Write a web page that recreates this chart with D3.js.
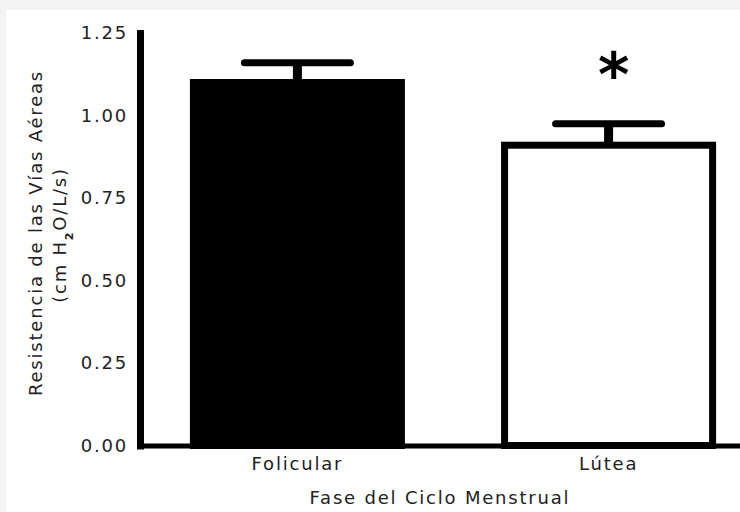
<!DOCTYPE html>
<html lang="es">
<head>
  <meta charset="utf8">
  <script type="text/javascript" src="https://cdn.jsdelivr.net/npm/d3@7"></script>
  <title>Resistencia de las Vías Aéreas</title>
  <style>
    body { margin: 0; background: #f3f3f3; }
    text { font-family: "DejaVu Sans", Verdana, sans-serif; fill: #222; }
  </style>
</head>
<body>
  <div id="chart"></div>
</body>
<script type="text/javascript">

  // datos
  var fases = ["Folicular", "Lútea"];
  var medias = [1.10, 0.91];
  var errores = [0.06, 0.065];
  var rellenos = ["#000", "#fff"];
  var significativo = [false, true];
  var ticksY = [0, 0.25, 0.5, 0.75, 1.0, 1.25];

  var width = 740, height = 512;

  var svg = d3.select("#chart").append("svg")
    .attr("width", width).attr("height", height);

  // panel blanco
  svg.append("rect")
    .attr("x", 6).attr("y", 10)
    .attr("width", width - 6).attr("height", height - 10)
    .attr("fill", "#fff");

  var y = d3.scaleLinear().domain([0, 1.25]).range([445.5, 33]);
  var x = d3.scaleBand().domain(fases).range([137, 769])
    .paddingInner(0.309).paddingOuter(0.17);

  // barras
  var bw = x.bandwidth();
  svg.append("g").selectAll("rect")
    .data(fases)
    .enter()
    .append("rect")
    .attr("x", function (d) { return x(d) + 3.5; })
    .attr("y", function (d, i) { return y(medias[i]); })
    .attr("width", bw - 7)
    .attr("height", function (d, i) { return y(0) - y(medias[i]); })
    .attr("fill", function (d, i) { return rellenos[i]; })
    .attr("stroke", "#000")
    .attr("stroke-width", 7);

  // barras de error (solo hacia arriba)
  var eb = svg.append("g").attr("stroke", "#000");
  fases.forEach(function (f, i) {
    var cx = x(f) + bw / 2;
    eb.append("line")
      .attr("x1", cx).attr("x2", cx)
      .attr("y1", y(medias[i])).attr("y2", y(medias[i] + errores[i]))
      .attr("stroke-width", 9);
    eb.append("line")
      .attr("x1", cx - 53).attr("x2", cx + 53)
      .attr("y1", y(medias[i] + errores[i])).attr("y2", y(medias[i] + errores[i]))
      .attr("stroke-width", 7)
      .attr("stroke-linecap", "round");
    if (significativo[i]) {
      svg.append("text")
        .attr("x", cx + 5)
        .attr("y", y(medias[i] + errores[i]) - 28)
        .attr("text-anchor", "middle")
        .style("font-size", "60px")
        .style("font-weight", "bold")
        .style("fill", "#000")
        .text("*");
    }
  });

  // eje x
  var gx = svg.append("g")
    .attr("transform", "translate(0," + y(0) + ")")
    .call(d3.axisBottom(x).tickSize(0).tickPadding(12));
  gx.select(".domain").attr("stroke", "#000").attr("stroke-width", 5);
  gx.selectAll("text")
    .attr("fill", null)
    .style("font-size", "18px")
    .style("letter-spacing", "1.8px");

  // eje y
  var gy = svg.append("g")
    .attr("transform", "translate(140,0)")
    .call(d3.axisLeft(y).tickValues(ticksY).tickFormat(d3.format(".2f"))
      .tickSize(3).tickSizeOuter(0).tickPadding(9));
  gy.select(".domain").attr("stroke", "#000").attr("stroke-width", 7)
    .attr("stroke-linecap", "square");
  gy.selectAll(".tick line").attr("stroke", "#000").attr("stroke-width", 3);
  gy.selectAll("text")
    .attr("fill", null)
    .style("font-size", "18px")
    .style("letter-spacing", "1.8px");

  // títulos de ejes
  svg.append("text")
    .attr("x", 440).attr("y", 504)
    .attr("text-anchor", "middle")
    .style("font-size", "18px")
    .style("letter-spacing", "1.8px")
    .text("Fase del Ciclo Menstrual");

  svg.append("text")
    .attr("transform", "translate(42,233) rotate(-90)")
    .attr("text-anchor", "middle")
    .style("font-size", "18px")
    .style("letter-spacing", "1.8px")
    .text("Resistencia de las Vías Aéreas");

  var t2 = svg.append("text")
    .attr("transform", "translate(66,235) rotate(-90)")
    .attr("text-anchor", "middle")
    .style("font-size", "18px")
    .style("letter-spacing", "1.8px");
  t2.append("tspan").text("(cm H");
  t2.append("tspan").attr("baseline-shift", "sub").style("font-size", "11px").style("font-weight", "bold").text("2");
  t2.append("tspan").text("O/L/s)");

</script>
</html>
